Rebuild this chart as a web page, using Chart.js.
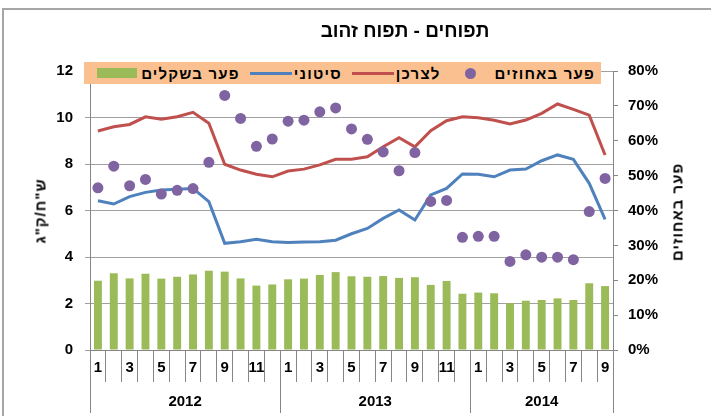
<!DOCTYPE html>
<html lang="he">
<head>
    <meta charset="UTF-8">
    <title>תפוחים - תפוח זהוב</title>
    <style>
        html, body { margin: 0; padding: 0; background: #fff; }
        #wrap { position: relative; width: 711px; height: 416px; overflow: hidden; }
        #wrap canvas { position: absolute; left: 0; top: 0; }
        .lbl {
            position: absolute;
            font-family: 'Liberation Sans', 'DejaVu Sans', sans-serif;
            font-weight: bold;
            color: #000;
            white-space: nowrap;
            direction: rtl;
            line-height: 1;
        }
        #title { left: 405px; top: 30px; font-size: 19px; transform: translate(-50%, -50%); }
        .ytitle { font-size: 15px; letter-spacing: 1px; transform: translate(-50%, -50%) rotate(-90deg); }
        #legend {
            position: absolute;
            left: 84px; top: 62px; width: 517px; height: 22px;
            background: #fac090;
            direction: rtl;
            display: flex; align-items: center;
            box-sizing: border-box; padding-right: 6px;
            font-family: 'Liberation Sans', 'DejaVu Sans', sans-serif;
            font-weight: bold; font-size: 15px; line-height: 1;
        }
        .item { display: flex; align-items: center; margin-left: 10px; }
        .item .txt { margin-left: 4px; letter-spacing: 1.2px; }
        .mk { width: 40px; height: 12px; position: relative; }
        .mk i { position: absolute; display: block; }
    </style>
    <script src="https://cdn.jsdelivr.net/npm/chart.js"></script>
</head>
<body>
<div id="wrap">
    <canvas id="chart" width="711" height="416"></canvas>
    <div id="title" class="lbl">תפוחים - תפוח זהוב</div>
    <div class="lbl ytitle" style="left:40px; top:211px;">ש"ח/ק"ג</div>
    <div class="lbl ytitle" style="left:677px; top:212px;">פער באחוזים</div>
    <div id="legend"></div>
</div>
<script>
    // חודשים (ינואר 2012 - ספטמבר 2014)
    const months = [1,2,3,4,5,6,7,8,9,10,11,12, 1,2,3,4,5,6,7,8,9,10,11,12, 1,2,3,4,5,6,7,8,9];
    const years = ['2012', '2013', '2014'];
    const monthsInYear = [12, 12, 9];

    // ש"ח לק"ג
    const consumer = [9.42, 9.6, 9.7, 10.03, 9.93, 10.03, 10.22, 9.75, 7.99, 7.74, 7.56, 7.45,
                      7.7, 7.78, 7.96, 8.2, 8.2, 8.31, 8.74, 9.13, 8.74, 9.43, 9.86, 10.03,
                      9.99, 9.88, 9.72, 9.89, 10.18, 10.58, 10.35, 10.1, 8.39];
    const wholesale = [6.42, 6.28, 6.6, 6.78, 6.88, 6.91, 6.95, 6.38, 4.59, 4.66, 4.76, 4.66,
                       4.62, 4.64, 4.66, 4.72, 5.0, 5.23, 5.66, 6.02, 5.59, 6.67, 6.95, 7.57,
                       7.56, 7.45, 7.74, 7.78, 8.14, 8.39, 8.2, 7.17, 5.62];
    const gapShekel = [2.98, 3.3, 3.08, 3.28, 3.07, 3.15, 3.25, 3.41, 3.37, 3.08, 2.77, 2.82,
                       3.04, 3.07, 3.23, 3.35, 3.17, 3.15, 3.18, 3.1, 3.13, 2.8, 2.97, 2.42,
                       2.47, 2.44, 2.01, 2.12, 2.15, 2.22, 2.15, 2.87, 2.75];
    // אחוזים
    const gapPercent = [46.5, 52.7, 47.1, 48.9, 44.7, 45.8, 46.3, 53.8, 73, 66.4, 58.4, 60.5,
                        65.6, 65.9, 68.3, 69.4, 63.4, 60.4, 56.8, 51.4, 56.6, 42.6, 42.9, 32.3,
                        32.6, 32.6, 25.4, 27.3, 26.6, 26.6, 25.9, 39.7, 49.2];

    const FONT = "'Liberation Sans', 'DejaVu Sans', sans-serif";
    const AXIS = '#868686';
    const tickFont = { family: FONT, weight: 'bold', size: 15 };

    // מסגרת וקבוצות שנים
    const decorPlugin = {
        id: 'decor',
        beforeDraw(chart) {
            const c = chart.ctx;
            c.save();
            c.strokeStyle = '#a6a6a6';
            c.lineWidth = 2;
            c.strokeRect(3, 9, 780, 460);
            c.restore();
        },
        afterDraw(chart) {
            const c = chart.ctx;
            const a = chart.chartArea;
            const x = chart.scales.x;
            c.save();
            const step = x.getPixelForValue(1) - x.getPixelForValue(0);
            c.strokeStyle = AXIS;
            c.lineWidth = 1;
            let start = 0;
            const bottom = chart.height - 3;
            const edges = [start];
            monthsInYear.forEach(n => { start += n; edges.push(start); });
            edges.forEach(i => {
                const px = Math.round(x.getPixelForValue(i) - step / 2) + 0.5;
                c.beginPath();
                c.moveTo(px, a.bottom);
                c.lineTo(px, bottom);
                c.stroke();
            });
            c.fillStyle = '#000';
            c.font = 'bold 15px ' + FONT;
            c.textAlign = 'center';
            c.textBaseline = 'middle';
            years.forEach((y, k) => {
                const l = x.getPixelForValue(edges[k]) - step / 2;
                const r = x.getPixelForValue(edges[k + 1]) - step / 2;
                c.fillText(y, (l + r) / 2, 402);
            });
            c.restore();
        }
    };

    const chart = new Chart(document.getElementById('chart'), {
        type: 'bar',
        data: {
            labels: months,
            datasets: [
                {
                    type: 'line',
                    label: 'פער באחוזים',
                    data: gapPercent,
                    showLine: false,
                    pointRadius: 5.5,
                    pointBorderWidth: 0,
                    pointBackgroundColor: '#8064a2',
                    pointBorderColor: '#8064a2',
                    yAxisID: 'y1',
                    order: 0
                },
                {
                    type: 'line',
                    label: 'לצרכן',
                    data: consumer,
                    borderColor: '#c0504d',
                    borderWidth: 3,
                    pointRadius: 0,
                    tension: 0,
                    yAxisID: 'y',
                    order: 1
                },
                {
                    type: 'line',
                    label: 'סיטוני',
                    data: wholesale,
                    borderColor: '#4f81bd',
                    borderWidth: 3,
                    pointRadius: 0,
                    tension: 0,
                    yAxisID: 'y',
                    order: 2
                },
                {
                    type: 'bar',
                    label: 'פער בשקלים',
                    data: gapShekel,
                    backgroundColor: '#9bbb59',
                    categoryPercentage: 1,
                    barPercentage: 0.5,
                    yAxisID: 'y',
                    order: 3
                }
            ]
        },
        options: {
            responsive: false,
            animation: false,
            devicePixelRatio: 1,
            layout: { padding: { top: 71, left: 0, right: 0, bottom: 0 } },
            plugins: {
                legend: { display: false },
                tooltip: { enabled: false }
            },
            scales: {
                x: {
                    offset: true,
                    grid: { offset: true, drawOnChartArea: false, tickLength: 32, color: AXIS },
                    border: { color: AXIS },
                    ticks: {
                        autoSkip: false,
                        maxRotation: 0,
                        padding: -23,
                        color: '#000',
                        font: tickFont,
                        callback: (v, i) => (months[i] % 2 === 1 ? String(months[i]) : '')
                    },
                    afterFit: s => { s.height = 66; }
                },
                y: {
                    position: 'left',
                    min: 0,
                    max: 12,
                    ticks: {
                        stepSize: 2,
                        padding: 12,
                        color: '#000',
                        font: tickFont
                    },
                    grid: { color: '#a0a0a0', tickLength: 5 },
                    border: { color: AXIS },
                    afterFit: s => { s.width = 90; }
                },
                y1: {
                    position: 'right',
                    min: 0,
                    max: 80,
                    ticks: {
                        stepSize: 10,
                        padding: 10,
                        color: '#000',
                        font: tickFont,
                        callback: v => v + '%'
                    },
                    grid: { drawOnChartArea: false, tickLength: 5, color: AXIS },
                    border: { color: AXIS },
                    afterFit: s => { s.width = 98; }
                }
            }
        },
        plugins: [decorPlugin]
    });

    // מקרא HTML מתוך הסדרות
    const legend = document.getElementById('legend');
    chart.data.datasets.forEach(ds => {
        const item = document.createElement('span');
        item.className = 'item';
        const txt = document.createElement('span');
        txt.className = 'txt';
        txt.textContent = ds.label;
        const mk = document.createElement('span');
        mk.className = 'mk';
        const g = document.createElement('i');
        if (ds.type === 'bar') {
            g.style.cssText = 'left:0;top:1px;width:40px;height:10px;background:' + ds.backgroundColor;
        } else if (ds.showLine === false) {
            g.style.cssText = 'left:14.5px;top:0.5px;width:11px;height:11px;border-radius:50%;background:' + ds.pointBackgroundColor;
        } else {
            g.style.cssText = 'left:0;top:4.5px;width:42px;height:3px;background:' + ds.borderColor;
        }
        mk.appendChild(g);
        item.appendChild(txt);
        item.appendChild(mk);
        legend.appendChild(item);
    });
</script>
</body>
</html>
